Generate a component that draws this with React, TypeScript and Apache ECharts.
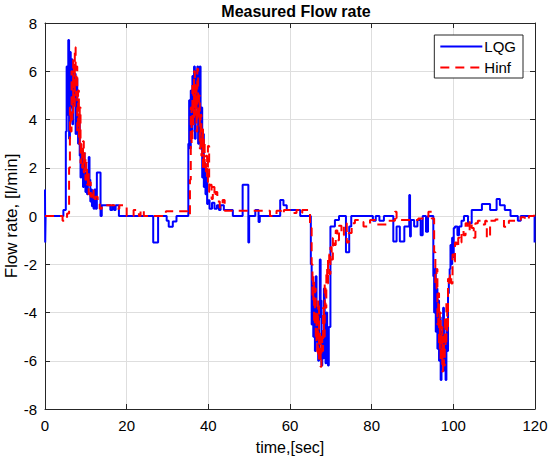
import React, { useEffect, useRef } from "react";
import * as echarts from "echarts";

const chartTitle = "Measured Flow rate";
const xName = "time,[sec]";
const yName = "Flow rate, [l/min]";
const seriesNames = ["LQG", "Hinf"];

const lqgTime = [
  0, 0.05, 0.15, 4.5, 5.1, 5.3, 5.5, 5.7, 5.9, 6.1, 6.3, 6.5, 6.7, 6.9, 7.1, 7.3, 7.5, 7.7, 7.9, 8.1,
  8.3, 8.5, 8.7, 8.9, 9.1, 9.3, 9.5, 9.7, 9.9, 10.1, 10.3, 10.5, 10.7, 10.9, 11.1, 11.3, 11.5, 11.7,
  11.9, 12.1, 12.4, 12.7, 13.6, 13.9, 16.0, 16.5, 16.9, 17.3, 18.1, 26.5, 27.7, 29.8, 30.3, 31.3,
  32.2, 35.1, 35.3, 35.5, 35.7, 35.9, 36.1, 36.3, 36.5, 36.7, 36.9, 37.1, 37.3, 37.5, 37.7, 37.9,
  38.1, 38.3, 38.5, 38.7, 38.9, 39.1, 39.3, 39.5, 39.7, 39.9, 40.3, 40.9, 41.5, 42.1, 42.6, 43.0,
  43.8, 46.0, 48.4, 49.8, 50.0, 51.5, 52.3, 52.6, 57.6, 58.4, 59.2, 62.5, 65.1, 65.3, 65.5, 65.7,
  65.9, 66.1, 66.3, 66.5, 66.7, 66.9, 67.1, 67.3, 67.5, 67.7, 67.9, 68.1, 68.3, 68.5, 68.7, 68.9,
  69.1, 69.3, 69.5, 69.9, 70.4, 71.0, 72.0, 73.7, 74.5, 75.0, 80.3, 81.0, 81.9, 83.0, 85.3, 86.1,
  86.9, 88.0, 89.2, 89.4, 89.6, 90.4, 91.2, 92.0, 92.5, 93.3, 93.8, 95.1, 95.3, 95.5, 95.7, 95.9,
  96.1, 96.3, 96.5, 96.7, 96.9, 97.1, 97.3, 97.5, 97.7, 97.9, 98.1, 98.3, 98.5, 98.7, 98.9, 99.1,
  99.3, 99.5, 99.7, 99.9, 100.1, 100.4, 101.0, 101.4, 102.0, 102.6, 103.6, 104.5, 107.0, 109.0,
  110.6, 111.4, 112.6, 114.0, 115.8, 116.5, 119.9, 120,
];
const lqgFlow = [
  1.1, -1.1, 0, 0.25, 3.5, 6.2, 4.2, 7.3, 3.2, 6.8, 4.5, 6.5, 3.8, 6.0, 4.8, 5.9, 3.4, 5.7, 4.0, 3.0,
  4.2, 2.5, 1.6, 2.8, 2.2, 1.2, 2.6, 1.6, 1.0, 1.8, 0.9, 1.4, 2.45, 1.5, 0.6, 1.1, 0.4, 0.9,
  0.3, 1.1, 0.3, 1.8, 0, 0.45, 0.25, 0.45, 0.25, 0.45, 0, -1.1, 0, -0.2, -0.45, -0.23,
  0, 3.0, 4.8, 2.8, 5.2, 3.5, 5.8, 4.0, 6.2, 3.2, 6.0, 4.5, 6.2, 3.0, 5.5, 6.2,
  2.8, 4.5, 1.6, 3.4, 1.2, 2.2, 0.9, 1.6, 0.5, 0.65, 0.3, 0.55, 0.3, 0.45, 0.25, 0.45,
  0.25, 0, 1.3, -1.1, 0, 0.25, -0.25, 0, 0.66, 0.45, 0.25, 0, -2.0, -4.5, -2.8, -5.0,
  -3.2, -5.6, -2.5, -5.2, -3.8, -6.0, -4.2, -1.8, -3.5, -6.2, -4.8, -5.9, -3.0, -5.2, -6.1, -4.0,
  -5.5, -6.2, -4.6, -0.44, -0.44, -0.17, 0, -1.5, -0.44, 0, -0.2, 0, -0.2, 0, -1.06, -0.44,
  -1.06, -0.44, 0.87, -0.85, -0.17, -0.44, -0.17, -0.8, 0, -0.65, 0, -2.5, -4.0, -2.2, -4.8, -3.0,
  -5.5, -3.5, -6.0, -4.2, -6.8, -4.8, -5.8, -3.8, -6.4, -5.0, -6.8, -4.5, -5.6, -3.2, -2.6, -2.2,
  -1.2, -2.0, -0.9, -1.7, -0.5, -0.44, -0.8, -0.44, -0.2, 0, -0.3, 0.25, 0.5, 0.25,
  0.7, 0.45, 0.25, 0, -0.2, 0, -1.1, -1.1,
];

const hinfTime = [
  0, 4.3, 5.4, 5.9, 6.1, 6.3, 6.5, 6.7, 6.9, 7.1, 7.3, 7.5, 7.7, 7.9, 8.1, 8.3, 8.5, 8.7, 8.9, 9.1,
  9.3, 9.5, 9.7, 9.9, 10.1, 10.3, 10.5, 10.7, 10.9, 11.2, 11.5, 11.9, 12.3, 12.9, 13.4, 13.9, 17.0,
  18.2, 20.0, 21.7, 23.0, 23.4, 24.2, 29.6, 34.9, 35.5, 35.7, 35.9, 36.1, 36.3, 36.5, 36.7, 36.9,
  37.1, 37.3, 37.5, 37.7, 37.9, 38.1, 38.3, 38.5, 38.7, 38.9, 39.1, 39.4, 39.7, 39.9, 40.2, 40.5,
  40.8, 41.1, 41.5, 41.8, 42.2, 42.8, 43.5, 44.0, 55.1, 56.7, 57.8, 58.5, 61.0, 61.6, 62.5, 63.0,
  64.9, 65.3, 65.5, 65.7, 65.9, 66.1, 66.3, 66.5, 66.7, 66.9, 67.1, 67.3, 67.5, 67.7, 67.9, 68.1,
  68.3, 68.5, 68.7, 68.9, 69.1, 69.3, 69.6, 69.9, 70.2, 70.5, 70.8, 71.2, 71.6, 72.0, 72.6, 73.2,
  73.9, 74.4, 75.1, 75.9, 77.1, 78.0, 79.6, 81.2, 84.1, 85.7, 86.1, 86.5, 91.4, 93.9, 94.7, 95.3,
  95.6, 95.9, 96.1, 96.3, 96.5, 96.7, 96.9, 97.1, 97.3, 97.5, 97.7, 97.9, 98.1, 98.3, 98.5, 98.7,
  98.9, 99.2, 99.5, 99.8, 100.1, 100.4, 100.8, 101.2, 101.6, 102.0, 102.5, 103.0, 103.5, 104.0,
  104.5, 105.0, 105.4, 106.0, 107.0, 107.8, 108.2, 109.0, 110.3, 112.4, 113.6, 116.5, 117.5, 118.5,
  119.8, 120,
];
const hinfFlow = [
  0, -0.2, 0.1, 2.0, 4.5, 3.5, 6.0, 4.0, 6.5, 4.5, 7.0, 5.0, 6.2, 3.5, 5.2, 3.0, 4.5, 2.2, 3.0, 2.0,
  3.1, 1.8, 2.6, 1.5, 2.2, 1.3, 1.8, 0.9, 1.4, 0.8, 1.1, 0.6, 0.8, 0.5, 0.3, 0.45, 0.3,
  0.45, 0, 0.25, 0, 0.25, 0, 0.2, 0.05, 1.5, 4.5, 3.0, 5.5, 3.8, 6.0, 4.2, 5.4,
  3.5, 6.1, 4.0, 5.0, 2.8, 4.2, 2.5, 3.6, 2.0, 3.2, 1.8, 2.5, 1.4, 2.9, 1.0, 1.3,
  0.7, 1.2, 0.8, 1.0, 0.6, 0.35, 0.66, 0.22, 0, 0.22, 0.1, 0.25, 0.12, 0.25, 0.12, 0.25,
  -0.5, -2.0, -3.5, -2.5, -4.5, -3.0, -5.2, -4.0, -5.8, -3.5, -6.0, -4.8, -6.25, -5.0, -5.6, -3.8,
  -5.0, -2.8, -3.8, -2.2, -2.8, -1.6, -2.4, -1.3, -1.8, -0.9, -1.2, -0.6, -1.0, -0.4, -0.8, -0.3,
  -1.1, -0.7, -0.3, -0.17, -0.25, -0.44, -0.17, -0.35, -0.2, 0.18, -0.1, -0.17, -0.1, 0.18, -0.1, -1.5,
  -3.0, -2.2, -4.5, -3.2, -5.5, -4.0, -6.0, -4.6, -6.45, -5.0, -6.2, -4.2, -5.4, -3.6, -4.8, -2.6,
  -2.9, -2.4, -2.8, -1.6, -1.9, -1.1, -1.3, -0.9, -1.1, -0.6, -0.8, -0.3, -0.6, -0.2,
  -0.5, -0.9, -0.3, -0.2, -0.35, -0.2, -0.9, -0.2, -0.15, -0.45, -0.2, -0.05, -0.15, 0,
  0.25, 0.25,
];

const xMin = 0;
const xMax = 120;
const xStep = 20;
const yMin = -8;
const yMax = 8;
const yStep = 2;

const FONT = "'Liberation Sans', Arial, Helvetica, sans-serif";
const AX = "#262626";

function zip(t: number[], v: number[]) {
  return t.map((x, i) => [x, v[i]]);
}

export default function App() {
  const ref = useRef<HTMLDivElement>(null);
  useEffect(() => {
    document.body.style.margin = "0";
    if (!ref.current) return;
    const chart = echarts.init(ref.current, undefined, { renderer: "svg" });
    const frameAxis = {
      type: "value" as const,
      axisLine: { show: true, onZero: false, lineStyle: { color: AX, width: 1 } },
      axisTick: { show: true, inside: true, length: 5, lineStyle: { color: AX } },
      axisLabel: { show: false },
      splitLine: { show: false },
    };
    chart.setOption({
      animation: false,
      backgroundColor: "#ffffff",
      textStyle: { fontFamily: FONT },
      title: {
        text: chartTitle,
        left: 291,
        textAlign: "center",
        top: -2,
        textStyle: { fontFamily: FONT, fontSize: 16, fontWeight: "bold", color: "#000" },
      },
      grid: { left: 45, right: 15, top: 23, bottom: 50, containLabel: false, outerBoundsMode: "none" },
      legend: {
        data: seriesNames,
        orient: "vertical",
        right: 27,
        top: 35,
        padding: [4, 7, 3, 5],
        itemWidth: 42,
        itemHeight: 14,
        itemGap: 6,
        backgroundColor: "#ffffff",
        borderColor: AX,
        borderWidth: 1,
        borderRadius: 0,
        itemStyle: { opacity: 0 },
        textStyle: { fontFamily: FONT, fontSize: 15, color: "#000", padding: [0, 0, 0, -3] },
      },
      xAxis: [
        {
          type: "value",
          min: xMin,
          max: xMax,
          interval: xStep,
          position: "bottom",
          name: xName,
          nameLocation: "middle",
          nameGap: 30,
          nameMoveOverlap: false,
          nameTextStyle: { fontFamily: FONT, fontSize: 16, color: "#000" },
          axisLine: { show: true, onZero: false, lineStyle: { color: AX, width: 1 } },
          axisTick: { show: true, inside: true, length: 5, lineStyle: { color: AX } },
          axisLabel: { fontFamily: FONT, fontSize: 15, color: "#000", margin: 9 },
          splitLine: { show: true, lineStyle: { color: "#dedede", width: 1 } },
        },
        { ...frameAxis, min: xMin, max: xMax, interval: xStep, position: "top" },
      ],
      yAxis: [
        {
          type: "value",
          min: yMin,
          max: yMax,
          interval: yStep,
          position: "left",
          name: yName,
          nameLocation: "middle",
          nameGap: 25,
          nameMoveOverlap: false,
          nameTextStyle: { fontFamily: FONT, fontSize: 17, color: "#000" },
          axisLine: { show: true, onZero: false, lineStyle: { color: AX, width: 1 } },
          axisTick: { show: true, inside: true, length: 5, lineStyle: { color: AX } },
          axisLabel: { fontFamily: FONT, fontSize: 15, color: "#000", margin: 8 },
          splitLine: { show: true, lineStyle: { color: "#dedede", width: 1 } },
        },
        { ...frameAxis, min: yMin, max: yMax, interval: yStep, position: "right" },
      ],
      series: [
        {
          name: seriesNames[0],
          type: "line",
          step: "end",
          symbol: "none",
          showSymbol: false,
          xAxisIndex: 0,
          yAxisIndex: 0,
          color: "#0000ff",
          lineStyle: { color: "#0000ff", width: 2 },
          data: zip(lqgTime, lqgFlow),
          z: 3,
        },
        {
          name: seriesNames[1],
          type: "line",
          step: "end",
          symbol: "none",
          showSymbol: false,
          xAxisIndex: 0,
          yAxisIndex: 0,
          color: "#ff0000",
          lineStyle: { color: "#ff0000", width: 2, type: [9, 6] },
          data: zip(hinfTime, hinfFlow),
          z: 4,
        },
      ],
    });
    return () => chart.dispose();
  }, []);
  return <div ref={ref} style={{ width: 550, height: 459 }} />;
}
